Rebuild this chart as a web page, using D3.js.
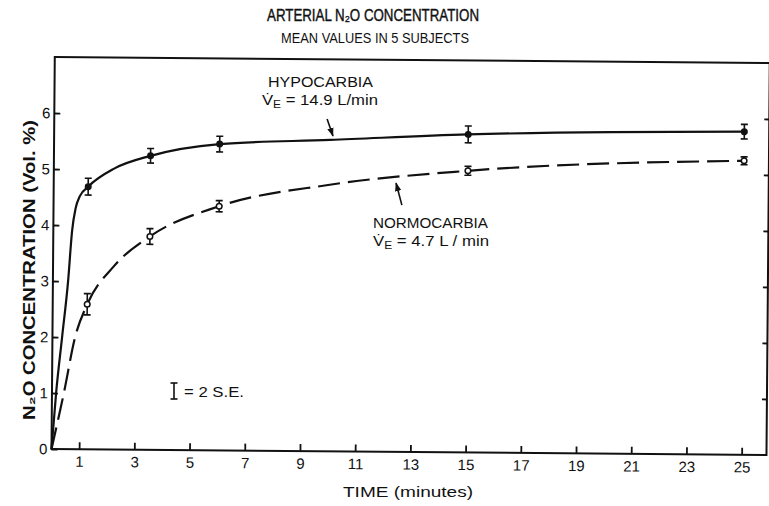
<!DOCTYPE html>
<html>
<head>
<meta charset="utf-8">
<script src="https://cdn.jsdelivr.net/npm/d3@7"></script>
<style>
body { margin: 0; background: #fff; }
text { font-family: "Liberation Sans", Arial, sans-serif; fill: #111; }
</style>
</head>
<body>
<svg id="chart" width="769" height="506"></svg>
<script>
// Arterial N2O concentration, mean values in 5 subjects

// sampling times (minutes) and means +- 2 S.E.
var times = [1.25, 3.5, 6, 15, 25];
var hypoMean = [4.69, 5.25, 5.47, 5.68, 5.77];
var hypoErr = [0.15, 0.13, 0.14, 0.15, 0.13];
var normoMean = [2.59, 3.81, 4.36, 5.03, 5.25];
var normoErr = [0.19, 0.14, 0.10, 0.08, 0.07];

// the hand drawn curves
var hypoCurveT = [0, 0.15, 0.35, 0.55, 0.68, 0.8, 0.95, 1.25, 2.2, 3.5, 6, 10, 15, 25];
var hypoCurveV = [0, 1, 2, 3, 3.9, 4.3, 4.52, 4.69, 5.02, 5.25, 5.47, 5.56, 5.68, 5.77];
var normoCurveT = [0, 0.43, 0.82, 1.25, 2.2, 3.5, 6, 10, 15, 25];
var normoCurveV = [0, 1, 2, 2.59, 3.27, 3.81, 4.36, 4.76, 5.03, 5.25];

var xTicks = [1, 3, 5, 7, 9, 11, 13, 15, 17, 19, 21, 23, 25];
var yTicks = [0, 1, 2, 3, 4, 5, 6];
var rightTicks = [1, 2, 3, 4, 5, 6];

var svg = d3.select("#chart");
svg.append("rect").attr("width", 769).attr("height", 506).attr("fill", "#fff");

var defs = svg.append("defs");
defs.append("marker")
	.attr("id", "head")
	.attr("viewBox", "0 0 10 10")
	.attr("refX", 9).attr("refY", 5)
	.attr("markerWidth", 9).attr("markerHeight", 9)
	.attr("markerUnits", "userSpaceOnUse")
	.attr("orient", "auto")
	.append("path")
	.attr("d", "M0,1.5 L10,5 L0,8.5 Z")
	.attr("fill", "#111");

// the scan is tilted a little, so the plot is too
var g = svg.append("g").attr("transform", "translate(51.5,449) rotate(0.48)");

var x = d3.scaleLinear().domain([0, 25.9]).range([0, 715]);
var y = d3.scaleLinear().domain([0, 7]).range([0, -392]);

g.append("rect")
	.attr("x", 0).attr("y", y(7))
	.attr("width", x(25.9)).attr("height", -y(7))
	.attr("fill", "none")
	.attr("stroke", "#111")
	.attr("stroke-width", 2);

var yAxis = g.append("g")
	.call(d3.axisLeft(y).tickValues(yTicks).tickFormat(d3.format("d"))
		.tickSizeInner(-6).tickSizeOuter(0).tickPadding(4));
var xAxis = g.append("g")
	.call(d3.axisBottom(x).tickValues(xTicks).tickFormat(d3.format("d"))
		.tickSizeInner(-7).tickSizeOuter(0).tickPadding(7));
var rAxis = g.append("g")
	.attr("transform", "translate(" + x(25.9) + ",0)")
	.call(d3.axisRight(y).tickValues(rightTicks).tickSizeInner(-5).tickSizeOuter(0).tickFormat(""));

[yAxis, xAxis, rAxis].forEach(function(a) {
	a.select(".domain").remove();
	a.selectAll(".tick line").attr("stroke", "#111").attr("stroke-width", 1.8);
	a.selectAll(".tick text")
		.attr("fill", "#111")
		.style("font-family", "'Liberation Sans', Arial, sans-serif")
		.style("font-size", "15px");
});

var line = d3.line()
	.x(function(d) { return x(d[0]); })
	.y(function(d) { return y(d[1]); })
	.curve(d3.curveMonotoneX);

g.append("path")
	.datum(d3.zip(hypoCurveT, hypoCurveV))
	.attr("d", line)
	.attr("fill", "none")
	.attr("stroke", "#111")
	.attr("stroke-width", 2.2);

g.append("path")
	.datum(d3.zip(normoCurveT, normoCurveV))
	.attr("d", line)
	.attr("fill", "none")
	.attr("stroke", "#111")
	.attr("stroke-width", 2.2)
	.attr("stroke-dasharray", "22,8");

function errorBars(means, errs) {
	var pts = d3.zip(times, means, errs);
	var eb = g.append("g").attr("stroke", "#111").attr("stroke-width", 1.6);
	eb.selectAll("line.v").data(pts).enter().append("line")
		.attr("x1", function(d) { return x(d[0]); })
		.attr("x2", function(d) { return x(d[0]); })
		.attr("y1", function(d) { return y(d[1] - d[2]); })
		.attr("y2", function(d) { return y(d[1] + d[2]); });
	[-1, 1].forEach(function(s) {
		eb.selectAll("line.c" + s).data(pts).enter().append("line")
			.attr("x1", function(d) { return x(d[0]) - 3.5; })
			.attr("x2", function(d) { return x(d[0]) + 3.5; })
			.attr("y1", function(d) { return y(d[1] + s * d[2]); })
			.attr("y2", function(d) { return y(d[1] + s * d[2]); });
	});
	return pts;
}

var hypoPts = errorBars(hypoMean, hypoErr);
g.selectAll("circle.hypo").data(hypoPts).enter().append("circle")
	.attr("cx", function(d) { return x(d[0]); })
	.attr("cy", function(d) { return y(d[1]); })
	.attr("r", 3.5)
	.attr("fill", "#111");

var normoPts = errorBars(normoMean, normoErr);
g.selectAll("circle.normo").data(normoPts).enter().append("circle")
	.attr("cx", function(d) { return x(d[0]); })
	.attr("cy", function(d) { return y(d[1]); })
	.attr("r", 2.8)
	.attr("fill", "#fff")
	.attr("stroke", "#111")
	.attr("stroke-width", 1.5);

// arrows pointing at the curves
var hx = x(10.1), hy = y(5.56) - 4;
g.append("path")
	.attr("d", "M" + (hx - 6) + "," + (hy - 17) + " L" + hx + "," + hy)
	.attr("stroke", "#111").attr("stroke-width", 1.6)
	.attr("marker-end", "url(#head)");
var nx = x(12.4), ny = y(4.89) + 5;
g.append("path")
	.attr("d", "M" + (nx + 6) + "," + (ny + 22) + " L" + nx + "," + ny)
	.attr("stroke", "#111").attr("stroke-width", 1.6)
	.attr("marker-end", "url(#head)");

// titles
svg.append("text")
	.attr("x", 373).attr("y", 21)
	.attr("text-anchor", "middle")
	.attr("textLength", 212).attr("lengthAdjust", "spacingAndGlyphs")
	.style("font-size", "16px")
	.style("stroke", "#111").style("stroke-width", 0.4)
	.text("ARTERIAL N\u2082O CONCENTRATION");

svg.append("text")
	.attr("x", 375).attr("y", 43)
	.attr("text-anchor", "middle")
	.attr("textLength", 188).attr("lengthAdjust", "spacingAndGlyphs")
	.style("font-size", "14px")
	.text("MEAN VALUES IN 5 SUBJECTS");

svg.append("text")
	.attr("x", 408).attr("y", 497)
	.attr("text-anchor", "middle")
	.attr("textLength", 130).attr("lengthAdjust", "spacingAndGlyphs")
	.style("font-size", "15px")
	.text("TIME (minutes)");

svg.append("text")
	.attr("transform", "translate(35,270) rotate(-90)")
	.attr("text-anchor", "middle")
	.attr("textLength", 300).attr("lengthAdjust", "spacingAndGlyphs")
	.style("font-size", "16px")
	.style("font-weight", "bold")
	.text("N\u2082O CONCENTRATION (Vol. %)");

// curve labels
function ventLabel(x0, y0, name, rest, w1, w2) {
	svg.append("text")
		.attr("x", x0 + (name === "HYPOCARBIA" ? 6 : 0)).attr("y", y0)
		.attr("textLength", w1).attr("lengthAdjust", "spacingAndGlyphs")
		.style("font-size", "14px")
		.text(name);
	var t = svg.append("text")
		.attr("x", x0).attr("y", y0 + 18)
		.attr("textLength", w2).attr("lengthAdjust", "spacingAndGlyphs")
		.style("font-size", "14px");
	t.append("tspan").text("V\u0307");
	t.append("tspan").attr("dy", 3).style("font-size", "10px").text("E");
	t.append("tspan").attr("dy", -3).text(rest);
}
ventLabel(262, 87, "HYPOCARBIA", " = 14.9 L/min", 105, 116);
ventLabel(373, 228, "NORMOCARBIA", " = 4.7 L / min", 115, 116);

// 2 S.E. key
var key = svg.append("g").attr("stroke", "#111").attr("stroke-width", 1.6);
key.append("line").attr("x1", 174).attr("x2", 174).attr("y1", 383).attr("y2", 399);
key.append("line").attr("x1", 170.5).attr("x2", 177.5).attr("y1", 383).attr("y2", 383);
key.append("line").attr("x1", 170.5).attr("x2", 177.5).attr("y1", 399).attr("y2", 399);
svg.append("text")
	.attr("x", 184).attr("y", 397)
	.attr("textLength", 60).attr("lengthAdjust", "spacingAndGlyphs")
	.style("font-size", "14px")
	.text("= 2 S.E.");
</script>
</body>
</html>
